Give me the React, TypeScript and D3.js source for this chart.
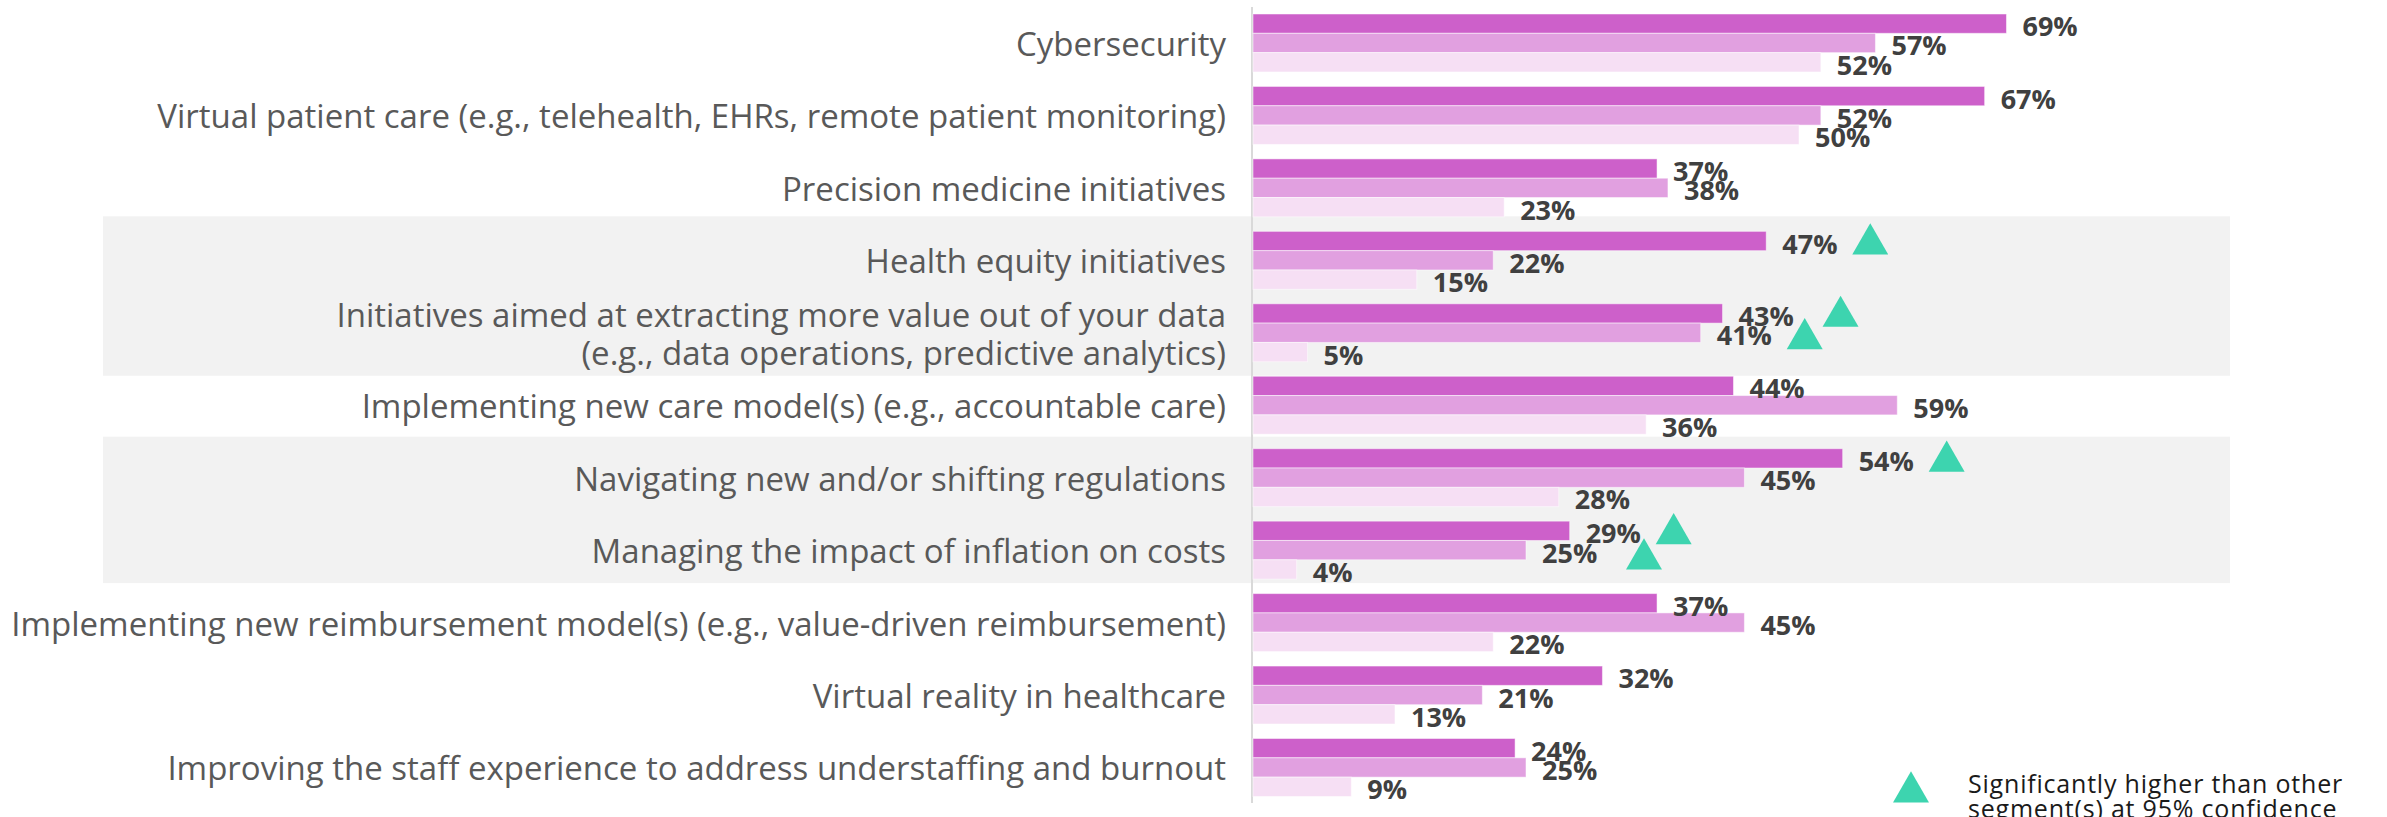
import React, { useEffect } from "react";
import * as d3 from "d3";

const categories = [
  ["Cybersecurity"],
  ["Virtual patient care (e.g., telehealth, EHRs, remote patient monitoring)"],
  ["Precision medicine initiatives"],
  ["Health equity initiatives"],
  ["Initiatives aimed at extracting more value out of your data", "(e.g., data operations, predictive analytics)"],
  ["Implementing new care model(s) (e.g., accountable care)"],
  ["Navigating new and/or shifting regulations"],
  ["Managing the impact of inflation on costs"],
  ["Implementing new reimbursement model(s) (e.g., value-driven reimbursement)"],
  ["Virtual reality in healthcare"],
  ["Improving the staff experience to address understaffing and burnout"],
];

// three segments, one value per category
const segmentA = [69, 67, 37, 47, 43, 44, 54, 29, 37, 32, 24];
const segmentB = [57, 52, 38, 22, 41, 59, 45, 25, 45, 21, 25];
const segmentC = [52, 50, 23, 15, 5, 36, 28, 4, 22, 13, 9];

// [category index, segment index] flagged as significantly higher
const significant = [[3, 0], [4, 0], [4, 1], [6, 0], [7, 0], [7, 1]];

// shaded category groups
const shadedGroups = [[3, 4], [6, 7]];

const legendLines = ["Significantly higher than other", "segment(s) at 95% confidence"];

const W = 2387;
const H = 817;
const colors = ["#CD60CA", "#E1A0E0", "#F6DFF4"];
const teal = "#3DD4AF";

export default function App() {
  useEffect(() => {
    document.body.style.margin = "0";
  }, []);

  const series = [segmentA, segmentB, segmentC];
  const idx = d3.range(categories.length);

  const x = d3.scaleLinear().domain([0, 100]).range([1253, 2345]);
  const y = d3.scaleBand<number>()
    .domain(idx)
    .range([6.75, 803.7])
    .paddingInner(0.2)
    .paddingOuter(0.1);
  const sub = d3.scaleBand<number>()
    .domain([0, 1, 2])
    .range([0, y.bandwidth()]);

  const shadePad = [[15, 14], [12, 4]];
  const markerNudge: Record<string, [number, number]> = {
    "4-0": [14, 0],
    "4-1": [0, 3],
    "7-1": [14, 6],
  };
  const tri = d3.symbol().type(d3.symbolTriangle).size(560);

  return (
    <svg width={W} height={H} style={{ display: "block", background: "#fff" }}>
      <g>
        {shadedGroups.map(([a, b], i) => (
          <rect
            key={i}
            x={103}
            width={2230 - 103}
            y={(y(a) as number) - shadePad[i][0]}
            height={(y(b) as number) + y.bandwidth() + shadePad[i][1] - ((y(a) as number) - shadePad[i][0])}
            fill="#F2F2F2"
          />
        ))}
      </g>
      <line x1={1252} x2={1252} y1={7} y2={803} stroke="#D9D9D9" strokeWidth={2} />
      <g fontFamily="'Open Sans', sans-serif" fontSize={33} fill="#595959" textAnchor="end">
        {categories.map((lines, i) => {
          const cy = (y(i) as number) + y.bandwidth() / 2;
          return (
            <text key={i} x={1226} y={cy} dominantBaseline="central">
              {lines.map((l, j) => (
                <tspan key={j} x={1226} dy={j === 0 ? -((lines.length - 1) * 38) / 2 : 38}>
                  {l}
                </tspan>
              ))}
            </text>
          );
        })}
      </g>
      <g>
        {series.map((vals, s) =>
          vals.map((v, i) => (
            <rect
              key={`${s}-${i}`}
              x={x(0)}
              y={(y(i) as number) + (sub(s) as number)}
              width={x(v) - x(0)}
              height={sub.bandwidth()}
              fill={colors[s]}
              stroke="#ffffff"
              strokeOpacity={0.5}
              strokeWidth={1}
            />
          ))
        )}
      </g>
      <g fontFamily="'Open Sans', sans-serif" fontWeight="bold" fontSize={27} fill="#404040">
        {series.map((vals, s) =>
          vals.map((v, i) => (
            <text
              key={`${s}-${i}`}
              x={x(v) + 16}
              y={(y(i) as number) + (sub(s) as number) + sub.bandwidth() / 2 + 2}
              dominantBaseline="central"
            >
              {d3.format("d")(v)}%
            </text>
          ))
        )}
      </g>
      <g fill={teal}>
        {significant.map(([i, s]) => {
          const n = markerNudge[`${i}-${s}`] || [0, 0];
          const cx = x(series[s][i]) + 104 + n[0];
          const cy = (y(i) as number) + (sub(s) as number) + sub.bandwidth() / 2 + n[1];
          return <path key={`${i}-${s}`} d={tri() as string} transform={`translate(${cx},${cy + 3})`} />;
        })}
      </g>
      <g>
        <path d={tri() as string} fill={teal} transform="translate(1911,792)" />
        <text fontFamily="'Open Sans', sans-serif" fontSize={25} letterSpacing={0.8} fill="#1A1A1A">
          {legendLines.map((l, j) => (
            <tspan key={j} x={1968} y={793 + j * 25}>
              {l}
            </tspan>
          ))}
        </text>
      </g>
    </svg>
  );
}
